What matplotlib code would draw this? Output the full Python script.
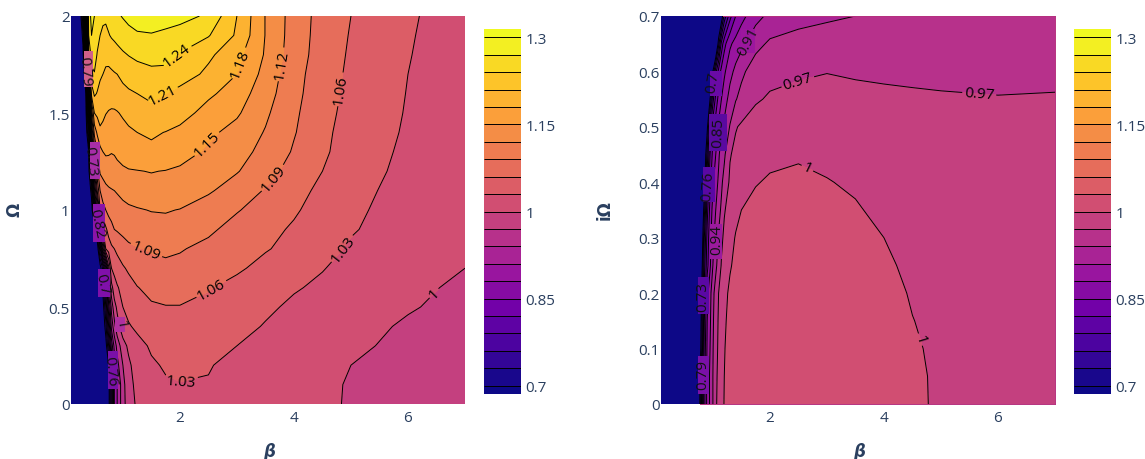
import numpy as np
import matplotlib
matplotlib.use('Agg')
import matplotlib.pyplot as plt
from matplotlib.colors import LinearSegmentedColormap
from matplotlib.patches import Rectangle

plt.rcParams['font.family'] = ['Open Sans', 'DejaVu Sans']

levels = [0.7, 0.73, 0.76, 0.79, 0.82, 0.85, 0.88, 0.91, 0.94, 0.97, 1.0, 1.03, 1.06,
          1.09, 1.12, 1.15, 1.18, 1.21, 1.24, 1.27, 1.3]
plasma_stops = ['#0d0887', '#46039f', '#7201a8', '#9c179e', '#bd3786', '#d8576b',
                '#ed7953', '#fb9f3a', '#fdca26', '#f0f921']
cbar_ticks = [0.7, 0.85, 1.0, 1.15, 1.3]

beta_a = [0.1, 0.25, 0.3, 0.35, 0.4, 0.45, 0.5, 0.55, 0.6, 0.65, 0.7, 0.75, 0.8, 0.85, 0.9,
          1.0, 1.1, 1.25, 1.5, 1.75, 2, 2.5, 3, 3.5, 4, 4.5, 5, 6, 7]
omega_a = [0, 0.1, 0.2, 0.3, 0.4, 0.5, 0.6, 0.7, 0.8, 0.9, 1.0, 1.1, 1.2, 1.3, 1.4, 1.5, 1.6,
           1.7, 1.8, 1.9, 2.0]
# one row per omega_a value
z_a = [
    [.62, .62, .62, .62, .62, .62, .62, .62, .62, .62, .62, .68, .78, .88, .91, .96, .985, 1.005, 1.015, 1.022, 1.025, 1.027, 1.026, 1.02, 1.015, 1.006, .997, .985, .975],
    [.62, .62, .62, .62, .62, .62, .62, .62, .62, .62, .62, .68, .78, .88, .91, .96, .99, 1.008, 1.02, 1.027, 1.029, 1.029, 1.024, 1.018, 1.011, 1.005, .998, .988, .98],
    [.62, .62, .62, .62, .62, .62, .62, .62, .62, .62, .64, .7, .82, .89, .93, .97, .995, 1.012, 1.026, 1.033, 1.036, 1.031, 1.0255, 1.018, 1.012, 1.007, 1.0, .992, .985],
    [.62, .62, .62, .62, .62, .62, .62, .62, .62, .62, .68, .76, .86, .92, .95, .99, 1.005, 1.02, 1.034, 1.041, 1.044, 1.039, 1.03, 1.022, 1.016, 1.011, 1.003, .996, .99],
    [.62, .62, .62, .62, .62, .62, .62, .62, .62, .66, .72, .82, .92, .96, .99, 1.015, 1.027, 1.036, 1.045, 1.051, 1.052, 1.047, 1.037, 1.0285, 1.022, 1.015, 1.008, .997, .99],
    [.62, .62, .62, .62, .62, .62, .62, .62, .64, .68, .76, .87, .95, .99, 1.005, 1.03, 1.04, 1.05, 1.057, 1.059, 1.059, 1.052, 1.043, 1.034, 1.026, 1.02, 1.013, 1.002, .993],
    [.62, .62, .62, .62, .62, .62, .62, .62, .65, .71, .8, .93, .99, 1.015, 1.027, 1.04, 1.05, 1.059, 1.067, 1.07, 1.07, 1.062, 1.052, 1.041, 1.032, 1.026, 1.019, 1.005, .996],
    [.62, .62, .62, .62, .62, .62, .62, .63, .68, .74, .84, .96, 1.03, 1.04, 1.047, 1.057, 1.064, 1.072, 1.08, 1.083, 1.083, 1.076, 1.064, 1.052, 1.043, 1.031, 1.023, 1.009, 1.0],
    [.62, .62, .62, .62, .62, .62, .63, .67, .78, .93, 1.03, 1.045, 1.055, 1.06, 1.066, 1.075, 1.083, 1.088, 1.093, 1.096, 1.092, 1.083, 1.072, 1.062, 1.052, 1.038, 1.027, 1.014, 1.004],
    [.62, .62, .62, .62, .62, .63, .66, .74, .96, 1.035, 1.055, 1.07, 1.08, 1.09, 1.093, 1.099, 1.104, 1.107, 1.11, 1.11, 1.107, 1.095, 1.08, 1.067, 1.057, 1.045, 1.032, 1.018, 1.008],
    [.62, .62, .62, .62, .63, .67, .8, .95, 1.06, 1.08, 1.09, 1.1, 1.105, 1.108, 1.11, 1.114, 1.116, 1.118, 1.121, 1.122, 1.119, 1.105, 1.092, 1.078, 1.063, 1.05, 1.0345, 1.02, 1.01],
    [.62, .62, .62, .62, .65, .72, .93, 1.03, 1.09, 1.105, 1.112, 1.116, 1.118, 1.12, 1.122, 1.126, 1.13, 1.134, 1.14, 1.142, 1.138, 1.124, 1.105, 1.088, 1.072, 1.052, 1.037, 1.022, 1.012],
    [.62, .62, .62, .63, .68, .84, 1.0, 1.08, 1.125, 1.13, 1.135, 1.137, 1.14, 1.141, 1.143, 1.146, 1.148, 1.149, 1.151, 1.149, 1.145, 1.132, 1.122, 1.1, 1.08, 1.06, 1.0395, 1.0245, 1.013],
    [.62, .62, .62, .64, .7, .94, 1.07, 1.12, 1.14, 1.15, 1.154, 1.153, 1.151, 1.152, 1.155, 1.16, 1.165, 1.168, 1.172, 1.171, 1.163, 1.145, 1.13, 1.112, 1.087, 1.066, 1.043, 1.0255, 1.014],
    [.62, .62, .62, .66, .78, 1.02, 1.13, 1.155, 1.175, 1.172, 1.166, 1.164, 1.163, 1.164, 1.166, 1.17, 1.175, 1.18, 1.185, 1.179, 1.172, 1.156, 1.14, 1.118, 1.092, 1.068, 1.046, 1.027, 1.015],
    [.62, .62, .63, .68, .88, 1.1, 1.18, 1.187, 1.19, 1.186, 1.181, 1.178, 1.176, 1.176, 1.178, 1.184, 1.19, 1.196, 1.204, 1.204, 1.193, 1.168, 1.154, 1.125, 1.095, 1.07, 1.05, 1.028, 1.015],
    [.62, .62, .64, .7, .98, 1.19, 1.215, 1.208, 1.2, 1.195, 1.194, 1.193, 1.194, 1.196, 1.198, 1.202, 1.206, 1.21, 1.215, 1.21, 1.2, 1.186, 1.165, 1.133, 1.098, 1.073, 1.052, 1.029, 1.015],
    [.62, .62, .66, .74, 1.12, 1.23, 1.238, 1.225, 1.215, 1.21, 1.205, 1.204, 1.206, 1.208, 1.21, 1.217, 1.222, 1.228, 1.233, 1.234, 1.226, 1.203, 1.18, 1.14, 1.1, 1.075, 1.054, 1.03, 1.016],
    [.62, .63, .68, .9, 1.2, 1.255, 1.255, 1.238, 1.228, 1.22, 1.218, 1.219, 1.222, 1.226, 1.229, 1.236, 1.241, 1.246, 1.25, 1.247, 1.238, 1.216, 1.189, 1.147, 1.104, 1.077, 1.056, 1.031, 1.017],
    [.62, .64, .72, 1.0, 1.24, 1.27, 1.262, 1.25, 1.24, 1.234, 1.233, 1.238, 1.243, 1.246, 1.25, 1.256, 1.262, 1.267, 1.268, 1.263, 1.256, 1.242, 1.206, 1.149, 1.106, 1.078, 1.058, 1.032, 1.017],
    [.62, .66, .8, 1.05, 1.26, 1.275, 1.27, 1.262, 1.252, 1.246, 1.245, 1.25, 1.258, 1.262, 1.266, 1.272, 1.277, 1.281, 1.285, 1.284, 1.281, 1.265, 1.21, 1.149, 1.107, 1.079, 1.06, 1.033, 1.018],
]

beta_b = [0.1, 0.75, 0.8, 0.85, 0.9, 0.95, 1.0, 1.05, 1.1, 1.15, 1.2, 1.3, 1.4, 1.5, 1.75, 2,
          2.5, 3, 3.5, 4, 4.5, 5, 6, 7]
omega_b = [0, 0.05, 0.1, 0.15, 0.2, 0.25, 0.3, 0.35, 0.4, 0.45, 0.5, 0.55, 0.6, 0.65, 0.7]
z_b = [
    [.62, .66, .76, .84, .89, .915, .94, .965, .98, .993, 1.001, 1.008, 1.012, 1.014, 1.017, 1.018, 1.019, 1.018, 1.016, 1.012, 1.005, .996, .985, .978],
    [.62, .66, .75, .84, .89, .915, .94, .963, .978, .992, 1.0, 1.008, 1.012, 1.014, 1.017, 1.018, 1.019, 1.018, 1.016, 1.012, 1.0045, .996, .986, .979],
    [.62, .64, .72, .83, .885, .91, .938, .96, .975, .99, .999, 1.007, 1.011, 1.014, 1.017, 1.018, 1.019, 1.018, 1.016, 1.011, 1.003, .995, .986, .98],
    [.62, .63, .71, .82, .88, .905, .935, .958, .973, .988, .997, 1.006, 1.01, 1.013, 1.016, 1.017, 1.018, 1.017, 1.015, 1.01, 1.0005, .994, .986, .98],
    [.62, .63, .7, .8, .87, .9, .93, .955, .97, .985, .994, 1.004, 1.009, 1.012, 1.015, 1.016, 1.017, 1.016, 1.014, 1.008, .998, .992, .985, .98],
    [.62, .62, .67, .78, .84, .875, .91, .932, .955, .972, .982, .998, 1.005, 1.009, 1.013, 1.014, 1.015, 1.013, 1.01, 1.004, .995, .99, .984, .98],
    [.62, .62, .65, .76, .83, .87, .9, .925, .943, .965, .975, .99, 1.002, 1.005, 1.01, 1.012, 1.013, 1.011, 1.007, 1.0, .993, .989, .983, .98],
    [.62, .62, .64, .72, .81, .86, .89, .91, .93, .945, .968, .98, .992, 1.0, 1.005, 1.007, 1.009, 1.006, 1.002, .995, .99, .986, .982, .979],
    [.62, .62, .63, .68, .78, .84, .875, .898, .915, .935, .95, .975, .985, .99, .999, 1.002, 1.004, 1.001, .997, .992, .988, .985, .981, .978],
    [.62, .62, .62, .66, .74, .82, .86, .88, .905, .925, .935, .968, .977, .982, .99, .996, .998, .995, .992, .988, .985, .982, .979, .976],
    [.62, .62, .62, .63, .69, .78, .84, .865, .885, .905, .917, .942, .968, .974, .978, .98, .983, .984, .984, .983, .981, .979, .976, .974],
    [.62, .62, .62, .62, .63, .7, .78, .83, .86, .88, .895, .922, .938, .95, .968, .972, .974, .976, .977, .976, .975, .973, .971, .971],
    [.62, .62, .62, .62, .62, .63, .7, .78, .83, .86, .875, .9, .918, .933, .957, .965, .968, .9695, .967, .965, .963, .963, .964, .967],
    [.62, .62, .62, .62, .62, .62, .62, .62, .72, .8, .84, .875, .89, .902, .93, .945, .951, .953, .953, .953, .953, .953, .953, .954],
    [.62, .62, .62, .62, .62, .62, .62, .62, .62, .67, .74, .81, .85, .87, .9, .917, .93, .936, .94, .943, .946, .948, .95, .951],
]

# labels that sit on clean contours, placed by clabel at (beta, omega)
clean_a = [(1.86, 1.83), (1.70, 1.59), (3.1, 1.75), (2.49, 1.335), (3.79, 1.75), (3.61, 1.17),
           (1.39, 0.78), (4.86, 1.62), (2.58, 0.58), (4.89, 0.79), (2.03, 0.11), (6.47, 0.567)]
clean_b = [(2.47, 0.587), (5.67, 0.558), (2.65, 0.424), (4.6, 0.115)]

# labels in the dense band, in picture pixels:
# text, x, y, rotation, background, patch x0, x1, y0, y1
band_a = [('0.79', 85, 72, -86, '#d0608a', 84, 93, 52, 88),
          ('0.73', 90, 162, -84, '#a82ea8', 90, 100, 143, 180),
          ('0.82', 97, 224, -78, '#8a14a8', 93, 105, 205, 243),
          ('0.7', 102, 285, -76, '#8010aa', 98, 110, 270, 298),
          ('1', 121, 325, -80, '#b030a0', 115, 125, 318, 333),
          ('0.76', 110, 372, -84, '#7a10a8', 108, 118, 352, 390)]
band_b = [('0.91', 748, 42, 62, '#9c179e', 741, 755, 30, 54),
          ('0.7', 713, 83, 80, '#6a0aa6', 710, 722, 72, 97),
          ('0.85', 718, 133, 88, '#5a0aa0', 709, 727, 115, 152),
          ('0.76', 708, 187, 86, '#5a08a4', 703, 715, 168, 203),
          ('0.94', 717, 240, 90, '#9b1a9e', 710, 722, 225, 260),
          ('0.73', 703, 297, 90, '#5a08a4', 698, 709, 278, 315),
          ('0.79', 703, 375, 90, '#7a10a8', 698, 709, 357, 395)]

txt = '#2a3f5f'
plasma = LinearSegmentedColormap.from_list('plasma_px', plasma_stops)
mids = [(lv + 0.015 - 0.7) / 0.6 for lv in levels[:-1]]
band_colors = [plasma(0.0)] + [plasma(m) for m in mids] + [plasma(1.0)]

W, H = 1145, 460
fig = plt.figure(figsize=(W / 100, H / 100), dpi=100)


def box(x0, y0, x1, y1):
    return fig.add_axes([x0 / W, 1 - y1 / H, (x1 - x0) / W, (y1 - y0) / H])


def panel(x0, betas, omegas, z, yticks, ylabels, clean_pos, band, ylab):
    ax = box(x0, 17, x0 + 394, 405)
    z = np.array(z)
    cf = ax.contourf(betas, omegas, z, levels=levels, colors=band_colors, extend='both')
    cs = ax.contour(betas, omegas, z, levels=levels, colors='k', linewidths=0.7)
    ax.set_xlim(betas[0] - 0.01, 7)
    ax.set_ylim(omegas[0], omegas[-1])
    ax.clabel(cs, manual=clean_pos, inline_spacing=2, fontsize=11, fmt=lambda v: f'{v:g}')
    for s, xc, yc, rot, bg, px0, px1, py0, py1 in band:
        ax.add_patch(Rectangle((px0 / W, 1 - py1 / H), (px1 - px0) / W, (py1 - py0) / H,
                               transform=fig.transFigure, facecolor=bg, edgecolor='none',
                               zorder=5))
        ax.text(xc / W, 1 - yc / H, s, transform=fig.transFigure, rotation=rot,
                rotation_mode='anchor', ha='center', va='center', fontsize=11,
                color='#111111', zorder=6)
    ax.set_xticks([2, 4, 6])
    ax.set_yticks(yticks)
    ax.set_yticklabels(ylabels)
    ax.tick_params(length=0, labelsize=11, labelcolor=txt, pad=1)
    ax.tick_params(axis='x', pad=4)
    for sp in ax.spines.values():
        sp.set_visible(False)
    fig.text((x0 + 198) / W, 1 - 452 / H, '\u03b2', family='DejaVu Sans', style='italic',
             weight='bold', fontsize=12, color=txt, ha='center', va='center')
    fig.text((x0 - 56) / W, 1 - 210 / H, ylab, rotation=90, family='DejaVu Sans', weight='bold',
             fontsize=12, color=txt, ha='center', va='center')

    cax = box(x0 + 413, 30, x0 + 450, 395)
    cb = fig.colorbar(cf, cax=cax, extendrect=True, extendfrac=0.024, ticks=cbar_ticks,
                      format='%g', drawedges=False)
    cb.add_lines(cs)
    cb.outline.set_visible(False)
    cb.ax.tick_params(length=0, labelsize=11, labelcolor=txt, pad=3)
    return ax


panel(71, beta_a, omega_a, z_a, [0, 0.5, 1, 1.5, 2], ['0', '0.5', '1', '1.5', '2'],
      clean_a, band_a, '\u03a9')
ax_b = panel(661, beta_b, omega_b, z_b, [0, 0.1, 0.2, 0.3, 0.4, 0.5, 0.6, 0.7],
             ['0', '0.1', '0.2', '0.3', '0.4', '0.5', '0.6', '0.7'],
             clean_b, band_b, 'i\u03a9')
# thin edge of the underlying fill, only where the plot is not navy
edge = '#b5317f'
ax_b.plot([0.77, 7], [0, 0], color=edge, lw=0.7, clip_on=False, zorder=4)
ax_b.plot([1.18, 7], [0.7, 0.7], color=edge, lw=0.7, clip_on=False, zorder=4)
ax_b.plot([7, 7], [0, 0.7], color=edge, lw=0.7, clip_on=False, zorder=4)

fig.savefig('out.png', dpi=100)
